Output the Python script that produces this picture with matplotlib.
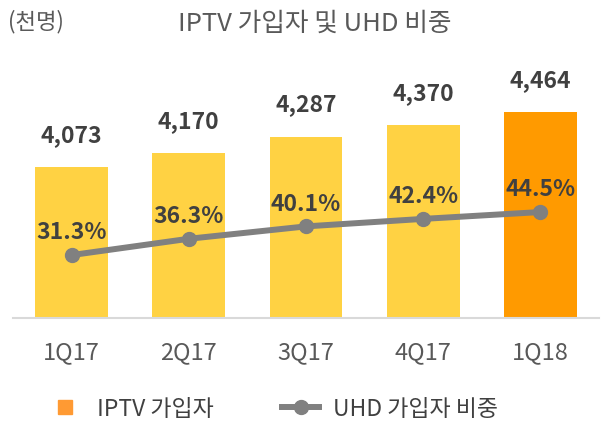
import matplotlib
matplotlib.use("Agg")
import matplotlib.pyplot as plt
from matplotlib.lines import Line2D

plt.rcParams['font.family'] = ['Noto Sans CJK KR', 'DejaVu Sans']

quarters = ["1Q17", "2Q17", "3Q17", "4Q17", "1Q18"]
subscribers = [4073, 4170, 4287, 4370, 4464]
uhd_share = [31.3, 36.3, 40.1, 42.4, 44.5]

bar_colors = ["#FFD243"] * 4 + ["#FF9A00"]
text_dark = "#404040"
text_grey = "#595959"
line_grey = "#808080"

fig = plt.figure(figsize=(6.15, 4.44), dpi=100)
ax = fig.add_axes([13 / 615, 1 - 318 / 444, 586 / 615, 268 / 444])

x = range(len(quarters))
ax.bar(x, subscribers, width=0.62, color=bar_colors, zorder=2)
ax.set_xlim(-0.5, 4.5)
ax.set_ylim(3000, 4905)

for xi, v in zip(x, subscribers):
    ax.annotate(f"{v:,}", (xi, v), xytext=(0, 23), textcoords="offset points",
                ha="center", va="center", fontsize=16.5, fontweight="bold",
                color=text_dark)

ax2 = ax.twinx()
ax2.set_ylim(12.0, 94.2)
ax2.plot(x, uhd_share, color=line_grey, lw=4.3, marker="o", markersize=10,
         zorder=3)
for xi, v in zip(x, uhd_share):
    ax2.annotate(f"{v}%", (xi, v), xytext=(0, 16), textcoords="offset points",
                 ha="center", va="center", fontsize=16.5, fontweight="bold",
                 color=text_dark)

for a in (ax, ax2):
    for s in a.spines.values():
        s.set_visible(False)
    a.set_yticks([])
ax.spines["bottom"].set_visible(True)
ax.spines["bottom"].set_color("#D9D9D9")
ax.spines["bottom"].set_linewidth(1.5)

ax.set_xticks(list(x))
ax.set_xticklabels(quarters, fontsize=17, color=text_grey)
ax.tick_params(axis="x", length=0, pad=17)

fig.text(315 / 615, 1 - 24 / 444, "IPTV 가입자 및 UHD 비중", ha="center",
         va="center", fontsize=18.5, color=text_grey)
fig.text(8 / 615, 1 - 22 / 444, "(천명)", ha="left", va="center",
         fontsize=16, color=text_grey)

handles = [Line2D([], [], ls="none", marker="s", markersize=10,
                  color="#FF9A33"),
           Line2D([], [], color=line_grey, lw=4.3, marker="o", markersize=10)]
fig.legend(handles, ["IPTV 가입자", "UHD 가입자 비중"], loc="center",
           bbox_to_anchor=(272 / 615, 1 - 409 / 444), ncol=2, frameon=False,
           fontsize=16.5, labelcolor=text_dark, handlelength=1.6,
           columnspacing=3.0, handletextpad=0.6)

fig.savefig("out.png", dpi=100)
